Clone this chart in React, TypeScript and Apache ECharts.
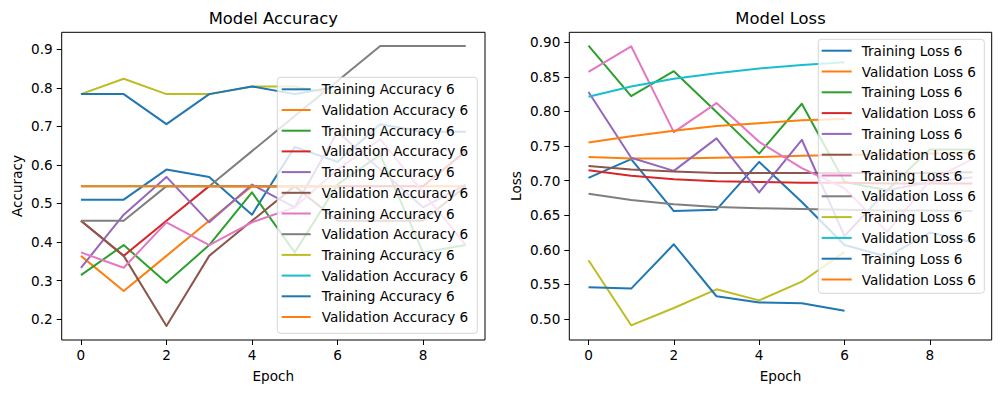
import React, { useEffect, useRef } from "react";
import * as echarts from "echarts";

// ---- data ----
const epochs = [0, 1, 2, 3, 4, 5, 6, 7, 8, 9];
const xTicks = [0, 2, 4, 6, 8];
const accTicks = [0.2, 0.3, 0.4, 0.5, 0.6, 0.7, 0.8, 0.9];
const lossTicks = [0.5, 0.55, 0.6, 0.65, 0.7, 0.75, 0.8, 0.85, 0.9];

const accTrain1 = [0.51, 0.51, 0.588, 0.569, 0.471, 0.647, 0.608, 0.706, 0.686, 0.686];
const accVal1 = [0.364, 0.273, 0.364, 0.455, 0.545, 0.545, 0.545, 0.545, 0.545, 0.545];
const accTrain2 = [0.314, 0.392, 0.294, 0.392, 0.529, 0.373, 0.549, 0.627, 0.373, 0.392];
const accVal2 = [0.455, 0.364, 0.455, 0.545, 0.545, 0.545, 0.545, 0.545, 0.545, 0.636];
const accTrain3 = [0.333, 0.471, 0.569, 0.451, 0.549, 0.49, 0.686, 0.588, 0.49, 0.549];
const accVal3 = [0.455, 0.364, 0.182, 0.364, 0.455, 0.545, 0.455, 0.455, 0.455, 0.545];
const accTrain4 = [0.373, 0.333, 0.451, 0.392, 0.451, 0.49, 0.588, 0.667, 0.529, 0.392];
const accVal4 = [0.455, 0.455, 0.545, 0.545, 0.636, 0.727, 0.818, 0.909, 0.909, 0.909];
const accTrain5 = [0.784, 0.824, 0.784, 0.784, 0.804, 0.804, 0.784];
const accVal5 = [0.545, 0.545, 0.545, 0.545, 0.545, 0.545, 0.545];
const accTrain6 = [0.784, 0.784, 0.706, 0.784, 0.804, 0.784, 0.804];
const accVal6 = [0.545, 0.545, 0.545, 0.545, 0.545, 0.545, 0.545];

const lossTrain1 = [0.704, 0.731, 0.656, 0.658, 0.727, 0.669, 0.607, 0.59, 0.625, 0.611];
const lossVal1 = [0.734, 0.732, 0.732, 0.733, 0.734, 0.736, 0.737, 0.738, 0.739, 0.74];
const lossTrain2 = [0.895, 0.822, 0.858, 0.799, 0.739, 0.811, 0.698, 0.686, 0.745, 0.745];
const lossVal2 = [0.715, 0.707, 0.702, 0.699, 0.698, 0.697, 0.697, 0.696, 0.696, 0.696];
const lossTrain3 = [0.828, 0.733, 0.714, 0.761, 0.683, 0.759, 0.62, 0.686, 0.698, 0.705];
const lossVal3 = [0.721, 0.716, 0.713, 0.711, 0.711, 0.711, 0.711, 0.711, 0.711, 0.712];
const lossTrain4 = [0.857, 0.894, 0.77, 0.812, 0.756, 0.718, 0.689, 0.626, 0.7, 0.731];
const lossVal4 = [0.681, 0.672, 0.666, 0.662, 0.66, 0.659, 0.658, 0.657, 0.657, 0.656];
const lossTrain5 = [0.585, 0.491, 0.516, 0.543, 0.527, 0.554, 0.597];
const lossVal5 = [0.821, 0.836, 0.847, 0.855, 0.862, 0.867, 0.871];
const lossTrain6 = [0.546, 0.544, 0.608, 0.533, 0.524, 0.523, 0.512];
const lossVal6 = [0.755, 0.764, 0.772, 0.779, 0.783, 0.787, 0.789];

const accSeries = [accTrain1, accVal1, accTrain2, accVal2, accTrain3, accVal3, accTrain4, accVal4, accTrain5, accVal5, accTrain6, accVal6];
const lossSeries = [lossTrain1, lossVal1, lossTrain2, lossVal2, lossTrain3, lossVal3, lossTrain4, lossVal4, lossTrain5, lossVal5, lossTrain6, lossVal6];
const accLabels = accSeries.map((_, i) => (i % 2 === 0 ? "Training Accuracy 6" : "Validation Accuracy 6"));
const lossLabels = lossSeries.map((_, i) => (i % 2 === 0 ? "Training Loss 6" : "Validation Loss 6"));

const colors = ["#1f77b4", "#ff7f0e", "#2ca02c", "#d62728", "#9467bd", "#8c564b", "#e377c2", "#7f7f7f", "#bcbd22", "#17becf"];

const FONT = "DejaVu Sans";
const FS = 13.6;

function makeSeries(arrs: number[][], labels: string[], axisIndex: number) {
  return arrs.map((arr, i) => ({
    type: "line",
    name: labels[i] + "#" + axisIndex + "_" + i,
    xAxisIndex: axisIndex,
    yAxisIndex: axisIndex,
    data: arr.map((v, k) => [epochs[k], v]),
    showSymbol: false,
    symbol: "none",
    z: 2,
    lineStyle: { color: colors[i % colors.length], width: 2, join: "round", cap: "butt" },
    itemStyle: { color: colors[i % colors.length] },
    emphasis: { disabled: true },
  }));
}

function legendGraphic(labels: string[], x: number, y: number, w: number, h: number, y0: number, gap: number, hx0: number, hx1: number, tx: number) {
  const children: any[] = [
    {
      type: "rect",
      z: 100,
      shape: { x, y, width: w, height: h, r: 3 },
      style: { fill: "rgba(255,255,255,0.8)", stroke: "rgba(204,204,204,0.8)", lineWidth: 1 },
    },
  ];
  labels.forEach((lab, i) => {
    const cy = y0 + i * gap;
    children.push({
      type: "line",
      z: 101,
      shape: { x1: hx0, y1: cy, x2: hx1, y2: cy },
      style: { stroke: colors[i % colors.length], lineWidth: 2 },
    });
    children.push({
      type: "text",
      z: 101,
      x: tx,
      y: cy,
      style: { text: lab, fill: "#000", font: `${FS}px "${FONT}"`, align: "left", verticalAlign: "middle" },
    });
  });
  return { type: "group", z: 100, children };
}

function axisCommonX(gridIndex: number) {
  return {
    type: "value",
    gridIndex,
    min: -0.45,
    max: 9.45,
    axisLine: { show: false, onZero: false },
    splitLine: { show: false },
    axisTick: { show: true, inside: false, length: 5, customValues: xTicks, lineStyle: { color: "#000", width: 1 } },
    axisLabel: { customValues: xTicks, margin: 8, color: "#000", fontFamily: FONT, fontSize: FS, formatter: (v: number) => String(v) },
  };
}

function axisCommonY(gridIndex: number, min: number, max: number, ticks: number[], digits: number) {
  return {
    type: "value",
    gridIndex,
    min,
    max,
    axisLine: { show: false, onZero: false },
    splitLine: { show: false },
    axisTick: { show: true, inside: false, length: 5, customValues: ticks, lineStyle: { color: "#000", width: 1 } },
    axisLabel: { customValues: ticks, margin: 9, color: "#000", fontFamily: FONT, fontSize: FS, formatter: (v: number) => v.toFixed(digits) },
  };
}

export default function App() {
  const ref = useRef<HTMLDivElement>(null);
  useEffect(() => {
    if (!ref.current) return;
    const chart = echarts.init(ref.current, null, { renderer: "svg", width: 1001, height: 393 });
    const textStyle = (size: number) => ({ fill: "#000", font: `${size}px "${FONT}"`, align: "center", verticalAlign: "middle" });
    chart.setOption({
      animation: false,
      backgroundColor: "#ffffff",
      grid: [
        { left: 61.7, top: 32.3, width: 423.3, height: 307.7, show: true, borderColor: "#000", borderWidth: 1, backgroundColor: "transparent", containLabel: false },
        { left: 569.3, top: 32.3, width: 422.4, height: 307.7, show: true, borderColor: "#000", borderWidth: 1, backgroundColor: "transparent", containLabel: false },
      ],
      xAxis: [axisCommonX(0), axisCommonX(1)],
      yAxis: [
        axisCommonY(0, 0.1455, 0.9445, accTicks, 1),
        axisCommonY(1, 0.4698, 0.9142, lossTicks, 2),
      ],
      series: [...makeSeries(accSeries, accLabels, 0), ...makeSeries(lossSeries, lossLabels, 1)],
      graphic: [
        { type: "text", x: 273.3, y: 18.3, style: { text: "Model Accuracy", ...textStyle(16.4) } },
        { type: "text", x: 780.5, y: 18.3, style: { text: "Model Loss", ...textStyle(16.4) } },
        { type: "text", x: 273.3, y: 375.5, style: { text: "Epoch", ...textStyle(FS) } },
        { type: "text", x: 780.5, y: 375.5, style: { text: "Epoch", ...textStyle(FS) } },
        { type: "text", x: 16.5, y: 186, rotation: Math.PI / 2, style: { text: "Accuracy", ...textStyle(FS) } },
        { type: "text", x: 516, y: 186, rotation: Math.PI / 2, style: { text: "Loss", ...textStyle(FS) } },
        legendGraphic(accLabels, 277.3, 77.3, 200, 256, 89.3, 20.7, 281.7, 310.7, 321.7),
        legendGraphic(lossLabels, 818.3, 39.3, 166, 254, 50.7, 20.8, 821.7, 851.7, 861.7),
      ],
    });
    return () => chart.dispose();
  }, []);
  return <div ref={ref} style={{ position: "absolute", left: 0, top: 0, width: 1001, height: 393, background: "#fff" }} />;
}
